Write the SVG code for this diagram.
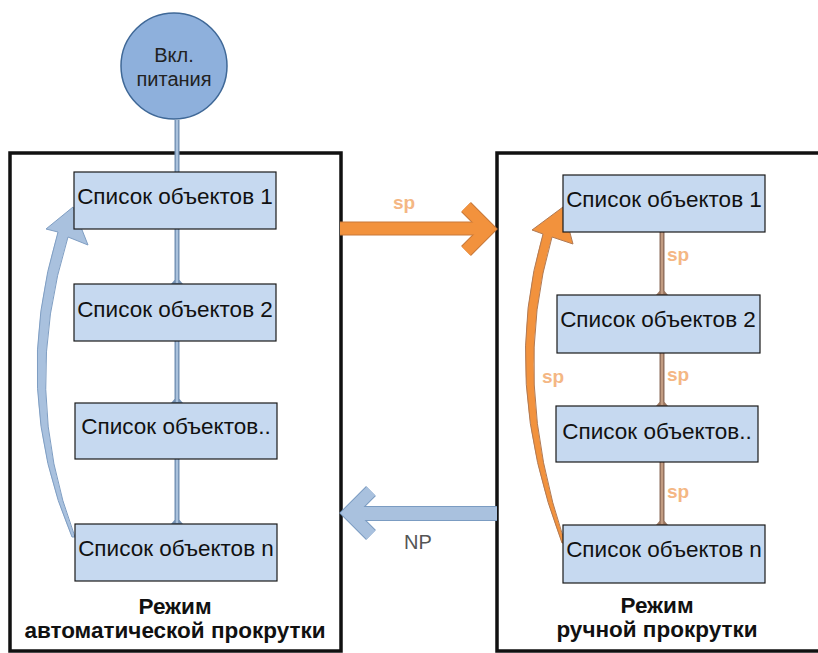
<svg xmlns="http://www.w3.org/2000/svg" width="818" height="653" viewBox="0 0 818 653">
<style>
.frame{fill:#fff;stroke:#111;stroke-width:3.5}
.box{fill:#c6d9f0;stroke:#1a1a1a;stroke-width:1.2}
.bt{font-family:"Liberation Sans",Arial,sans-serif;font-size:22.5px;fill:#111;text-anchor:middle}
.ct{font-family:"Liberation Sans",Arial,sans-serif;font-size:20px;fill:#222;text-anchor:middle}
.mode{font-family:"Liberation Sans",Arial,sans-serif;font-size:22.5px;font-weight:bold;fill:#111;text-anchor:middle}
.sp{font-family:"Liberation Sans",Arial,sans-serif;font-size:19px;font-weight:bold;fill:#f4b784;text-anchor:middle}
.np{font-family:"Liberation Sans",Arial,sans-serif;font-size:20px;fill:#555;text-anchor:middle}
.bd{stroke:#6f8db0;stroke-width:5;fill:none}
.bl{stroke:#a9c1dc;stroke-width:2.4;fill:none}
.od{stroke:#8a6a58;stroke-width:5;fill:none}
.ol{stroke:#c29c82;stroke-width:2.4;fill:none}
</style>
<defs>
<marker id="fb" markerUnits="userSpaceOnUse" markerWidth="14" markerHeight="14" refX="0" refY="0" viewBox="-7 -7 14 14" orient="auto" overflow="visible">
<path d="M-4,-2.5 L0,-6 L0,6 L-4,2.5 Z" fill="#7390b2"/>
</marker>
<marker id="fo" markerUnits="userSpaceOnUse" markerWidth="14" markerHeight="14" refX="0" refY="0" viewBox="-7 -7 14 14" orient="auto" overflow="visible">
<path d="M-4,-2.5 L0,-6 L0,6 L-4,2.5 Z" fill="#9a7660"/>
</marker>
</defs>
<rect width="818" height="653" fill="#fff"/>
<g id="auto-mode">
<rect class="frame" x="10" y="153" width="331" height="498"/>
<text class="mode" x="175" y="614">Режим</text>
<text class="mode" x="175" y="638">автоматической прокрутки</text>
</g>
<g id="manual-mode">
<rect class="frame" x="497" y="153" width="340" height="498"/>
<text class="mode" x="657" y="613">Режим</text>
<text class="mode" x="657" y="637">ручной прокрутки</text>
</g>
<g id="connectors">
<path class="bd" d="M177,120 V172"/>
<path class="bl" d="M177,120 V172"/>
<path class="bd" d="M177,229 V284" marker-end="url(#fb)"/>
<path class="bl" d="M177,229 V283"/>
<path class="bd" d="M177,341 V403" marker-end="url(#fb)"/>
<path class="bl" d="M177,341 V402"/>
<path class="bd" d="M177,459 V524" marker-end="url(#fb)"/>
<path class="bl" d="M177,459 V523"/>
<path class="od" d="M662,232 V295" marker-end="url(#fo)"/>
<path class="ol" d="M662,232 V294"/>
<path class="od" d="M662,353 V406" marker-end="url(#fo)"/>
<path class="ol" d="M662,353 V405"/>
<path class="od" d="M662,462 V525" marker-end="url(#fo)"/>
<path class="ol" d="M662,462 V524"/>
<text class="sp" x="678" y="261">sp</text>
<text class="sp" x="678" y="381">sp</text>
<text class="sp" x="678" y="498">sp</text>
<path d="M72,537 Q10,392 58,232 L46,229 L73,207 L88,245 L68,237 Q20,392 75,537 Z" fill="#a9c1de" stroke="#7f9ec3" stroke-width="1"/>
<path d="M562,543 Q500,380 543,234 L532,230 L563,207 L573,244 L552,237 Q510,380 565,543 Z" fill="#f2923d" stroke="#b07a55" stroke-width="1"/>
<text class="sp" x="553" y="383">sp</text>
<path d="M340,228.5 H488" stroke="#c8793a" stroke-width="14" fill="none"/>
<polyline points="466,207 488,229 466,251" stroke="#c8793a" stroke-width="14" fill="none" stroke-linejoin="miter"/>
<path d="M340,228.5 H487" stroke="#f2923d" stroke-width="12" fill="none"/>
<polyline points="466,207 488,229 466,251" stroke="#f2923d" stroke-width="12" fill="none" stroke-linejoin="miter"/>
<text class="sp" x="404" y="209" font-size="21px">sp</text>
<path d="M497,513.5 H350" stroke="#7b9cc2" stroke-width="15" fill="none"/>
<polyline points="371,491 349,513 371,535" stroke="#7b9cc2" stroke-width="14" fill="none" stroke-linejoin="miter"/>
<path d="M497,513.5 H351" stroke="#a9c1de" stroke-width="13" fill="none"/>
<polyline points="371,491 349,513 371,535" stroke="#a9c1de" stroke-width="12" fill="none" stroke-linejoin="miter"/>
<text class="np" x="418" y="549">NP</text>
</g>
<g id="power-on">
<circle cx="174" cy="66" r="53" fill="#8eb0dc" stroke="#3f6897" stroke-width="1.5"/>
<text class="ct" x="174" y="62">Вкл.</text>
<text class="ct" x="174" y="86">питания</text>
</g>
<g id="auto-list-1"><rect class="box" x="74" y="172" width="202" height="57"/><text class="bt" x="175" y="204">Список объектов 1</text></g>
<g id="auto-list-2"><rect class="box" x="74" y="284" width="202" height="57"/><text class="bt" x="175" y="317">Список объектов 2</text></g>
<g id="auto-list-3"><rect class="box" x="75" y="403" width="202" height="56"/><text class="bt" x="176" y="434">Список объектов..</text></g>
<g id="auto-list-n"><rect class="box" x="75" y="524" width="202" height="57"/><text class="bt" x="176" y="556">Список объектов n</text></g>
<g id="manual-list-1"><rect class="box" x="563" y="175" width="202" height="57"/><text class="bt" x="664" y="207">Список объектов 1</text></g>
<g id="manual-list-2"><rect class="box" x="557" y="295" width="203" height="58"/><text class="bt" x="658" y="327">Список объектов 2</text></g>
<g id="manual-list-3"><rect class="box" x="556" y="406" width="202" height="56"/><text class="bt" x="657" y="439">Список объектов..</text></g>
<g id="manual-list-n"><rect class="box" x="563" y="525" width="202" height="58"/><text class="bt" x="664" y="557">Список объектов n</text></g>
</svg>
